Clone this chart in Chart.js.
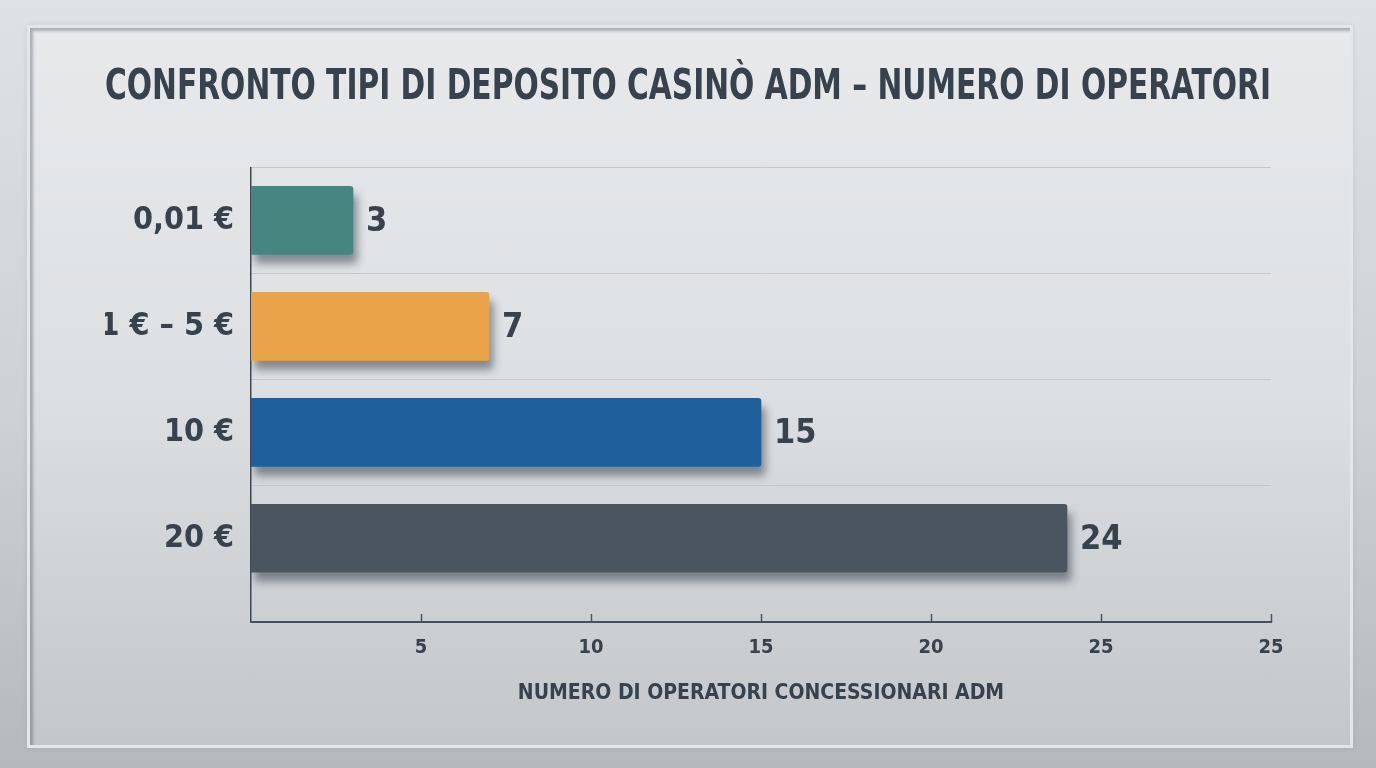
<!DOCTYPE html>
<html lang="it">
<head>
  <meta charset="UTF-8">
  <title>Confronto tipi di deposito casinò ADM</title>
  <script src="https://cdn.jsdelivr.net/npm/chart.js"></script>
  <style>
    html, body { margin: 0; padding: 0; }
    body {
      width: 1376px; height: 768px; overflow: hidden; position: relative;
      background: linear-gradient(180deg, #dfe2e4 0%, #cdd1d4 55%, #b4b9bd 100%);
    }
    /* inner panel */
    .panel {
      position: absolute; left: 27px; top: 25px; width: 1320px; height: 717px;
      border: 3px solid #e4e7e9;
      background: linear-gradient(180deg, #e7e9eb 0%, #dde0e2 50%, #c3c7ca 100%);
      box-shadow: inset 3px 3px 3px rgba(60,70,80,0.35), 0 0 6px rgba(0,0,0,0.08);
    }
    #wrap { position: absolute; left: 0; top: 0; width: 1376px; height: 768px; }
  </style>
</head>
<body>
  <div class="panel"></div>
  <div id="wrap"><canvas id="chart"></canvas></div>

  <script>
    // Data
    const categories = ['0,01 €', '1 € – 5 €', '10 €', '20 €'];
    const operators = [3, 7, 15, 24];
    const barColors = ['#478680', '#e9a44a', '#1f609c', '#4a5560'];
    const xTickValues = [5, 10, 15, 20, 25, 30];
    const xTickLabels = ['5', '10', '15', '20', '25', '25'];

    const FONT = "'DejaVu Sans Condensed', 'Liberation Sans Narrow', 'Roboto', sans-serif";
    const INK = '#37424c';

    // soft drop shadow under the bars
    const barShadow = {
      id: 'barShadow',
      beforeDatasetsDraw(chart) {
        const ctx = chart.ctx;
        ctx.save();
        ctx.shadowColor = 'rgba(20,30,40,0.45)';
        ctx.shadowBlur = 8;
        ctx.shadowOffsetX = 4;
        ctx.shadowOffsetY = 9;
      },
      afterDatasetsDraw(chart) {
        chart.ctx.restore();
      }
    };

    // value labels right of each bar
    const valueLabels = {
      id: 'valueLabels',
      afterDatasetsDraw(chart) {
        const ctx = chart.ctx;
        const meta = chart.getDatasetMeta(0);
        ctx.save();
        ctx.font = 'bold 34px ' + FONT;
        ctx.fillStyle = INK;
        ctx.textAlign = 'left';
        ctx.textBaseline = 'middle';
        meta.data.forEach((bar, i) => {
          ctx.fillText(String(operators[i]), bar.x + 13, bar.y + 2);
        });
        ctx.restore();
      }
    };

    new Chart(document.getElementById('chart'), {
      type: 'bar',
      data: {
        datasets: [{
          data: operators.map((v, i) => ({ x: v, y: i })),
          backgroundColor: barColors,
          borderRadius: 3,
          borderSkipped: 'start',
          barThickness: 68
        }]
      },
      options: {
        indexAxis: 'y',
        responsive: true,
        maintainAspectRatio: false,
        animation: false,
        layout: { padding: { left: 105, right: 105, top: 0, bottom: 0 } },
        plugins: {
          legend: { display: false },
          tooltip: { enabled: false },
          title: {
            display: true,
            text: 'CONFRONTO TIPI DI DEPOSITO CASINÒ ADM – NUMERO DI OPERATORI',
            color: INK,
            font: { family: FONT, size: 42, weight: 'bold' },
            padding: { top: 63, bottom: 54 }
          }
        },
        scales: {
          y: {
            type: 'linear',
            reverse: true,
            offset: false,
            clip: false,
            min: -0.5,
            max: 3.79,
            afterBuildTicks(scale) {
              scale.ticks = categories.map((c, i) => ({ value: i }));
            },
            afterFit(scale) { scale.width = 146; },
            ticks: {
              color: INK,
              padding: 17,
              font: { family: FONT, size: 32, weight: 'bold' },
              callback: (v) => categories[v]
            },
            grid: {
              offset: true,
              drawTicks: false,
              lineWidth: 1,
              color: (ctx) => ctx.type === 'tick' ? '#c3c7cb' : 'rgba(0,0,0,0)'
            },
            border: { display: true, color: '#3e4852', width: 1.5 }
          },
          x: {
            type: 'linear',
            min: 0,
            max: 30,
            clip: false,
            afterBuildTicks(scale) {
              scale.ticks = xTickValues.map(v => ({ value: v }));
            },
            afterFit(scale) { scale.height = 146; },
            ticks: {
              color: INK,
              padding: 22,
              font: { family: FONT, size: 20, weight: 'bold' },
              callback: (v) => xTickLabels[xTickValues.indexOf(v)]
            },
            grid: {
              drawOnChartArea: false,
              drawTicks: true,
              tickLength: -8,
              tickColor: '#4a5560',
              tickWidth: 1.5
            },
            border: { display: true, color: '#46515b', width: 2 },
            title: {
              display: true,
              text: 'NUMERO DI OPERATORI CONCESSIONARI ADM',
              color: INK,
              font: { family: FONT, size: 21, weight: 'bold' },
              padding: { top: 0, bottom: 62 }
            }
          }
        }
      },
      plugins: [barShadow, valueLabels]
    });
  </script>
</body>
</html>
